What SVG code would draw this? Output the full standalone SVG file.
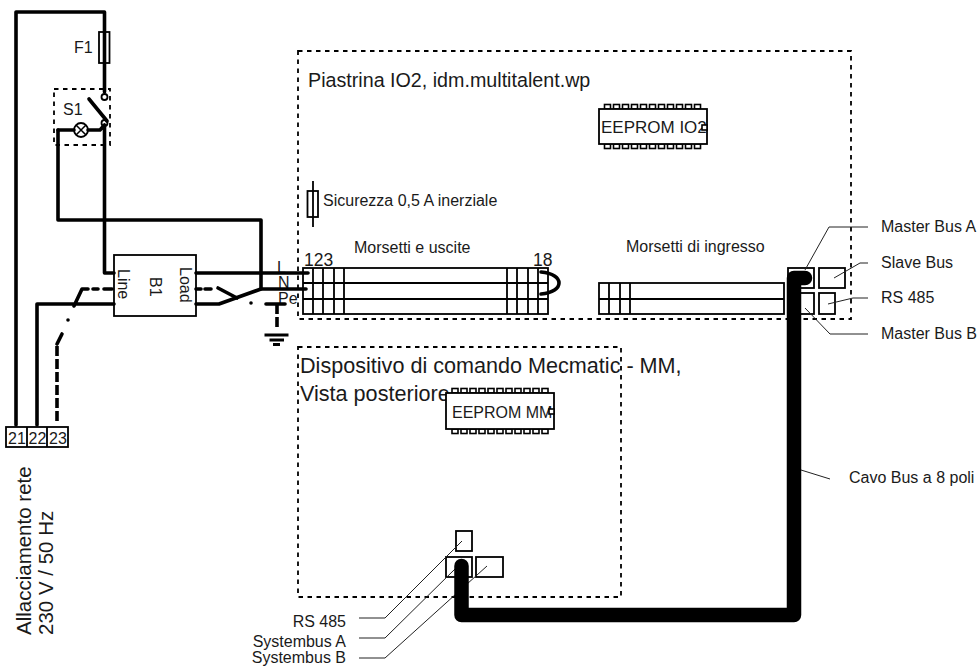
<svg xmlns="http://www.w3.org/2000/svg" width="977" height="666" viewBox="0 0 977 666">
<style>
text{font-family:"Liberation Sans",Arial,sans-serif;fill:#1a1a1a;font-size:16px}
.w,.box,.lead,.dash,.cable,.d{fill:none;stroke:#000}
.w{stroke-width:3.6;stroke-linecap:round;stroke-linejoin:round}
.d{stroke-width:3.6;stroke-dasharray:10 3}
.box{stroke-width:1.8}
.r{fill:#fff;stroke:#000;stroke-width:1.8}
.lead{stroke:#222;stroke-width:1}
.dash{stroke-width:1.8;stroke-dasharray:4.5 4.5}
.cable{stroke-width:14.5;stroke-linecap:round;stroke-linejoin:round}
.pin{fill:#fff;stroke:#000;stroke-width:1.6}
.t20{font-size:20.500px}
.t17{font-size:17.500px}
</style>
<defs>
<g id="pins">
<rect class="pin" x="0" y="0" width="6" height="4.500"/><rect class="pin" x="9" y="0" width="6" height="4.500"/><rect class="pin" x="18" y="0" width="6" height="4.500"/><rect class="pin" x="27" y="0" width="6" height="4.500"/><rect class="pin" x="36" y="0" width="6" height="4.500"/><rect class="pin" x="45" y="0" width="6" height="4.500"/><rect class="pin" x="54" y="0" width="6" height="4.500"/><rect class="pin" x="63" y="0" width="6" height="4.500"/><rect class="pin" x="72" y="0" width="6" height="4.500"/><rect class="pin" x="81" y="0" width="6" height="4.500"/><rect class="pin" x="90" y="0" width="6" height="4.500"/>
</g>
</defs>
<g id="box-io2"><rect class="dash" x="298" y="51" width="553" height="268"/></g>
<g id="box-mm"><rect class="dash" x="298" y="347" width="323" height="250"/></g>
<g id="F1">
<rect class="r" x="99" y="32" width="10.500" height="31"/>
<text x="74" y="53">F1</text>
</g>
<g id="S1">
<rect class="dash" x="54" y="89" width="56" height="56"/>
<circle cx="104.500" cy="97" r="3" fill="#fff" stroke="#000" stroke-width="1.800"/>
<circle cx="104.500" cy="123" r="3" fill="#fff" stroke="#000" stroke-width="1.800"/>
<circle cx="81" cy="130" r="7" fill="#fff" stroke="#000" stroke-width="1.800"/>
<path d="M76 125L86 135M86 125L76 135" stroke="#000" stroke-width="1.500"/>
<text x="63" y="115">S1</text>
</g>
<g id="B1">
<rect class="r" x="114" y="255" width="82" height="61"/>
<text transform="translate(118 269) rotate(90)">Line</text>
<text transform="translate(150 277) rotate(90)">B1</text>
<text transform="translate(180 267) rotate(90)">Load</text>
</g>
<g id="terminal-21-23">
<rect class="r" x="6" y="427" width="62" height="20"/>
<path class="box" d="M27 427V447M47 427V447"/>
<text x="8" y="444">21</text><text x="28.500" y="444">22</text><text x="49" y="444">23</text>
</g>
<g id="rete-label">
<text class="t20" transform="translate(31 635) rotate(-90)">Allacciamento rete</text>
<text class="t20" transform="translate(53 635) rotate(-90)">230 V / 50 Hz</text>
</g>
<g id="labels-LNPe">
<text x="277" y="273">L</text>
<text x="278" y="288">N</text>
<text x="278" y="304">Pe</text>
</g>
<g id="io2-title"><text x="308" y="87" style="font-size:19.700px">Piastrina IO2, idm.multitalent.wp</text></g>
<g id="EEPROM-IO2">
<use href="#pins" x="604.500" y="104.500"/>
<use href="#pins" x="604.500" y="144"/>
<rect class="r" x="599" y="109" width="108" height="35"/>
<text x="601" y="133" style="font-size:17px">EEPROM IO2</text>
<rect class="pin" x="702" y="125" width="5" height="5"/>
</g>
<g id="fuse-05">
<path class="box" d="M313 181V227"/>
<rect class="box" x="307.500" y="191" width="10.500" height="26"/>
<text x="323" y="206">Sicurezza 0,5 A inerziale</text>
</g>
<g id="morsetti-uscite">
<text x="354" y="253">Morsetti e uscite</text>
<rect class="r" x="303" y="268" width="245" height="46"/>
<path class="box" d="M303 283H548M303 299H548M313 268V314M323 268V314M334 268V314M344 268V314M507 268V314M517 268V314M528 268V314M538 268V314"/>
<text class="t17" x="304" y="266">123</text>
<text class="t17" x="533" y="266">18</text>
</g>
<g id="morsetti-ingresso">
<text x="626" y="252">Morsetti di ingresso</text>
<rect class="r" x="599" y="283" width="185" height="31"/>
<path class="box" d="M599 299H784M609 283V314M620 283V314M630 283V314"/>
</g>
<g id="bus-ports">
<rect class="r" x="788" y="268" width="26" height="20"/>
<rect class="r" x="819" y="268" width="26" height="20"/>
<rect class="r" x="788" y="293" width="26" height="21"/>
<rect class="r" x="819" y="293" width="16" height="21"/>
</g>
<g id="mm-title">
<text x="300" y="373" style="font-size:21.600px">Dispositivo di comando Mecmatic - MM,</text>
<text x="300" y="401" style="font-size:21.600px">Vista posteriore</text>
</g>
<g id="EEPROM-MM">
<use href="#pins" x="452" y="388.500"/>
<use href="#pins" x="452" y="429"/>
<rect class="r" x="446" y="393" width="108" height="36"/>
<text x="452" y="418">EEPROM MM</text>
<rect class="pin" x="549" y="409" width="5" height="5"/>
</g>
<g id="mm-ports">
<rect class="r" x="456" y="531" width="16" height="20"/>
<rect class="r" x="446" y="557" width="26" height="20"/>
<rect class="r" x="476" y="557" width="27" height="20"/>
</g>
<g id="connectors">
<path class="w" d="M16 425V12H104.500V92"/>
<path class="w" d="M89 99L107 121"/>
<path class="w" d="M58 130H74M88 130H100L104.500 125V273H114"/>
<path class="w" d="M58 130V220H261V289"/>
<path class="w" d="M196 273H308M196 304H219L261 289H306"/>
<path class="w" d="M196 289H201M205 289H211M218 288L237 298"/>
<path class="w" d="M37 425V304H114M74 306L82 289H88"/>
<path class="w" d="M93 289H98M104 289H112M62 334L57 344"/>
<path class="d" d="M57 346V422"/>
<circle cx="68" cy="320" r="1.800"/>
<circle cx="251" cy="303" r="1.800"/>
<path class="w" d="M266 304H285"/>
<path class="d" d="M277 304V330"/>
<path d="M264.500 335H288.500" stroke="#000" stroke-width="3"/>
<path d="M269.500 340H284" stroke="#000" stroke-width="3"/>
<path d="M273 344.500H280" stroke="#000" stroke-width="3"/>
<path class="w" d="M541 272C565 274 565 292 541 294"/>
</g>
<g id="leaders">
<path class="lead" d="M805 270L829 227H868M834 278L860 263H868M828 304L853 298H868M805 308L830 334H868M801 470L830 479M359 618H385L462 541M359 638H385L455 569M359 658H385L487 566"/>
</g>
<g id="cable"><path class="cable" d="M805 278H794V615H461.500V566"/></g>
<g id="leader-labels">
<text x="881" y="232">Master Bus A</text>
<text x="881" y="268">Slave Bus</text>
<text x="881" y="303">RS 485</text>
<text x="881" y="339">Master Bus B</text>
<text x="849" y="483">Cavo Bus a 8 poli</text>
<text x="346" y="627" text-anchor="end">RS 485</text>
<text x="346" y="647" text-anchor="end">Systembus A</text>
<text x="346" y="663" text-anchor="end">Systembus B</text>
</g>
</svg>
